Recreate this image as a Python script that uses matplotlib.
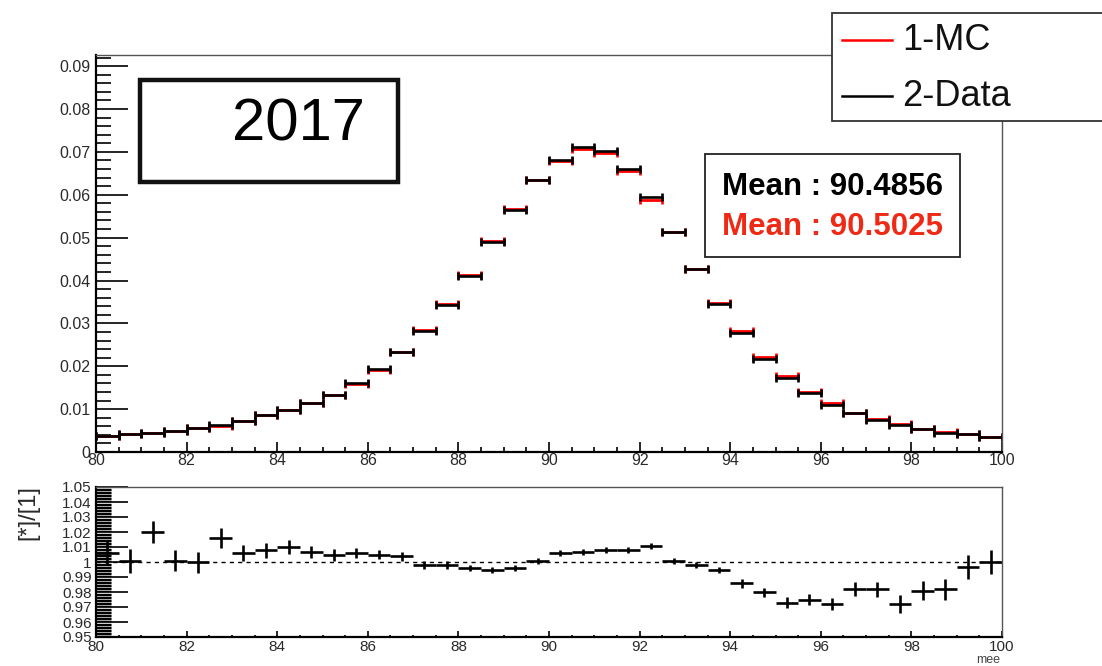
import numpy as np
import matplotlib
matplotlib.use("Agg")
import matplotlib.pyplot as plt
from matplotlib.patches import Rectangle
from matplotlib.lines import Line2D
from matplotlib.ticker import MultipleLocator, FixedLocator

plt.rcParams['font.family'] = ['Liberation Sans', 'DejaVu Sans']

# Binning of the dielectron mass (mee), 40 bins of 0.5 GeV
bin_edges = np.linspace(80, 100, 41)

# Normalised data histogram
data = [0.0038, 0.0041, 0.0045, 0.0049, 0.0055, 0.0062, 0.0073, 0.0086, 0.0098, 0.0114,
        0.0133, 0.0160, 0.0193, 0.0234, 0.0283, 0.0344, 0.0411, 0.0489, 0.0565, 0.0635,
        0.0682, 0.0711, 0.0703, 0.0660, 0.0595, 0.0513, 0.0426, 0.0346, 0.0278, 0.0218,
        0.0173, 0.0137, 0.0110, 0.0090, 0.0075, 0.0064, 0.0053, 0.0045, 0.0041, 0.0036]

# Data / MC ratio and its uncertainty
ratio = [1.006, 1.001, 1.020, 1.001, 1.000, 1.016, 1.006, 1.008, 1.010, 1.007,
         1.005, 1.006, 1.005, 1.004, 0.998, 0.998, 0.996, 0.995, 0.996, 1.001,
         1.006, 1.007, 1.008, 1.008, 1.011, 1.001, 0.998, 0.995, 0.986, 0.980,
         0.973, 0.975, 0.972, 0.982, 0.982, 0.972, 0.981, 0.982, 0.997, 1.000]
ratio_err = [0.008, 0.008, 0.0075, 0.007, 0.007, 0.0065, 0.0055, 0.005, 0.0045, 0.004,
             0.004, 0.0035, 0.003, 0.003, 0.0025, 0.0025, 0.002, 0.002, 0.002, 0.002,
             0.002, 0.002, 0.002, 0.002, 0.002, 0.002, 0.002, 0.002, 0.003, 0.003,
             0.0035, 0.0035, 0.004, 0.0045, 0.005, 0.006, 0.0065, 0.007, 0.008, 0.008]

mean_data = 90.4856
mean_mc = 90.5025
year = "2017"
labels = ["1-MC", "2-Data"]

centers = 0.5 * (bin_edges[:-1] + bin_edges[1:])
half_width = 0.5 * (bin_edges[1] - bin_edges[0])
data = np.array(data)
ratio = np.array(ratio)
mc = data / ratio

W, H = 1102, 666
fig = plt.figure(figsize=(W / 100, H / 100), dpi=100)

def px_axes(x0, y0, x1, y1):
    return fig.add_axes([x0 / W, 1 - y1 / H, (x1 - x0) / W, (y1 - y0) / H])

ax1 = px_axes(96, 55, 1002, 452)
ax2 = px_axes(96, 487, 1002, 637)

def style_frame(ax):
    for side in ['left', 'bottom']:
        ax.spines[side].set_color('black')
        ax.spines[side].set_linewidth(1.6)
    for side in ['right', 'top']:
        ax.spines[side].set_color('#555555')
        ax.spines[side].set_linewidth(1.0)

# ---- upper pad: the two histograms
ax1.errorbar(centers, mc, xerr=half_width, fmt='none', ecolor='red',
             elinewidth=2.0, capsize=2.8, capthick=1.9)
ax1.errorbar(centers, data, xerr=half_width, fmt='none', ecolor='black',
             elinewidth=1.9, capsize=2.8, capthick=1.9)
ax1.set_xlim(80, 100)
ax1.set_ylim(0, 0.0926)
ax1.yaxis.set_major_locator(FixedLocator([0, 0.01, 0.02, 0.03, 0.04, 0.05, 0.06, 0.07, 0.08, 0.09]))
ax1.yaxis.set_minor_locator(MultipleLocator(0.002))
ax1.xaxis.set_major_locator(MultipleLocator(2))
ax1.xaxis.set_minor_locator(MultipleLocator(0.5))
ax1.set_yticklabels(['0', '0.01', '0.02', '0.03', '0.04', '0.05', '0.06', '0.07', '0.08', '0.09'])
ax1.tick_params(axis='y', which='major', direction='in', length=23, width=1.2,
                labelsize=11.5, pad=4, labelcolor='#2a2a2a')
ax1.tick_params(axis='y', which='minor', direction='in', length=11, width=1.2)
ax1.tick_params(axis='x', which='major', direction='in', length=7, width=1.2,
                labelsize=11.5, pad=0.5, labelcolor='#2a2a2a')
ax1.tick_params(axis='x', which='minor', direction='in', length=3.5, width=1.2)
style_frame(ax1)

# year box
box = Rectangle((140 / W, 1 - 182 / H), 258 / W, 102 / H, transform=fig.transFigure,
                facecolor='white', edgecolor='#111111', linewidth=3.2)
fig.add_artist(box)
fig.text(298 / W, 1 - 125 / H, year, fontsize=43, ha='center', va='center')

# mean values box
stats = Rectangle((705 / W, 1 - 257 / H), 255 / W, 103 / H, transform=fig.transFigure,
                  facecolor='white', edgecolor='#222222', linewidth=1.3)
fig.add_artist(stats)
fig.text(833 / W, 1 - 187 / H, "Mean : %.4f" % mean_data, fontsize=22.5,
         fontweight='bold', color='black', ha='center', va='center')
fig.text(833 / W, 1 - 227 / H, "Mean : %.4f" % mean_mc, fontsize=22.5,
         fontweight='bold', color='#ee2a16', ha='center', va='center')

# legend
leg = Rectangle((832 / W, 1 - 121 / H), 290 / W, 108 / H, transform=fig.transFigure,
                facecolor='white', edgecolor='#333333', linewidth=1.3, clip_on=False)
fig.add_artist(leg)
for i, (lab, col) in enumerate(zip(labels, ['red', 'black'])):
    yy = 1 - (40 + 56 * i) / H
    fig.add_artist(Line2D([842 / W, 892 / W], [yy, yy], color=col, linewidth=1.8,
                          transform=fig.transFigure))
    fig.text(902 / W, yy, lab, fontsize=26, ha='left', va='center', color='#111111')

# ---- lower pad: ratio
ax2.axhline(1.0, color='black', linestyle=(0, (3, 3)), linewidth=1.0)
ax2.errorbar(centers, ratio, xerr=half_width, yerr=ratio_err, fmt='none',
             ecolor='black', elinewidth=1.9)
ax2.set_xlim(80, 100)
ax2.set_ylim(0.95, 1.05)
ax2.yaxis.set_major_locator(MultipleLocator(0.01))
ax2.yaxis.set_minor_locator(MultipleLocator(0.001))
ax2.xaxis.set_major_locator(MultipleLocator(2))
ax2.xaxis.set_minor_locator(MultipleLocator(0.5))
ax2.set_yticks(np.round(np.arange(0.95, 1.0501, 0.01), 2))
ax2.set_yticklabels(['0.95', '0.96', '0.97', '0.98', '0.99', '1', '1.01', '1.02', '1.03', '1.04', '1.05'])
ax2.tick_params(axis='y', which='major', direction='in', length=23, width=1.2,
                labelsize=11, pad=3, labelcolor='#2a2a2a')
ax2.tick_params(axis='y', which='minor', direction='in', length=11, width=1.0)
ax2.tick_params(axis='x', which='major', direction='in', length=4, width=1.2,
                labelsize=11, pad=2, labelcolor='#2a2a2a')
ax2.tick_params(axis='x', which='minor', direction='in', length=1.5, width=1.2)
style_frame(ax2)
fig.text(28 / W, 1 - 513 / H, "[*]/[1]", fontsize=17, rotation=90,
         ha='center', va='center', color='#2a2a2a')
fig.text(988 / W, 1 - 660 / H, "mee", fontsize=9, ha='center', va='center', color='#444444')

fig.savefig("out.png", dpi=100)
